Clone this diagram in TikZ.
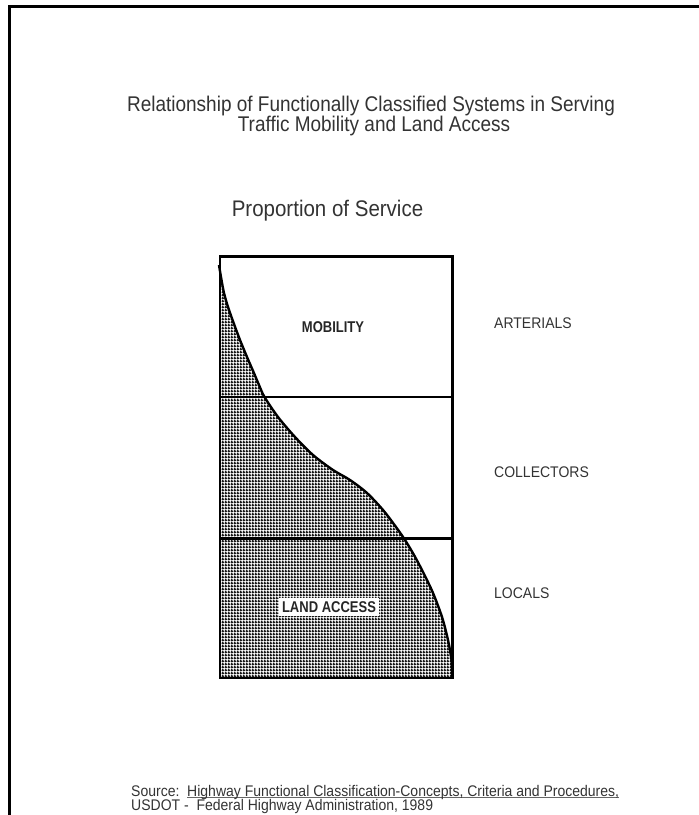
\documentclass[tikz,border=0pt]{standalone}
\usepackage{graphicx}
\usepackage{fontspec}
\setmainfont{Liberation Sans}
\usetikzlibrary{patterns.meta}
\tikzdeclarepattern{
  name=dotgrid,
  type=uncolored,
  bottom left={(0pt,0pt)},
  top right={(3pt,3pt)},
  tile size={(3pt,3pt)},
  code={
    \fill (0pt,0pt) rectangle (3pt,1.8pt);
    \fill (0pt,0pt) rectangle (1.8pt,3pt);
  }
}
\newcommand{\vstretch}[2][1.1]{\scalebox{1}[#1]{#2}}
\newcommand{\srcul}[1]{\setbox0\hbox{#1}\rlap{\color{black!60}\rule[-1.6pt]{\wd0}{0.7pt}}\box0}
\definecolor{ink}{HTML}{333333}
\tikzset{
  frame/.style={line width=3pt, black},
  chartline/.style={line width=2.4pt, black},
  shade/.style={pattern=dotgrid, pattern color=black!90},
  title/.style={text=ink, font=\fontsize{19}{20}\selectfont, inner sep=0pt},
  subtitle/.style={text=ink, font=\fontsize{20.5}{22}\selectfont, inner sep=0pt},
  rowlabel/.style={text=ink, font=\fontsize{14}{14}\selectfont, inner sep=0pt, anchor=base west},
  inlabel/.style={text=black!85, font=\bfseries\fontsize{13}{13}\selectfont, inner sep=0pt},
  srcline/.style={text=ink, font=\fontsize{14}{14}\selectfont, inner sep=0pt, anchor=base west}
}
\def\curvepts{(219,265) (221.5,280) (224,293) (228,307) (234,324) (240,340) (247,357) (253.5,372) (259,385) (264.5,397) (278,417) (295,437) (313,455) (333,470) (350,480) (367,493) (383,510) (396,527) (405,540) (414,555) (423,572) (433,593) (442,617) (448,640) (451.5,660) (452.5,678)}
\begin{document}
\begin{tikzpicture}[x=1pt,y=-1pt]
\useasboundingbox (0,0) rectangle (699,815);
% page frame
\draw[frame] (699,6.2) -- (9.6,6.2) -- (9.6,815);
% titles
\node[title, anchor=base] (title1) at (371,111.7) {\vstretch[1.12]{Relationship of Functionally Classified Systems in Serving}};
\node[title, anchor=base] (title2) at (374,131.7) {\vstretch[1.12]{Traffic Mobility and Land Access}};
\node[subtitle, anchor=base] (prop) at (327.5,216.7) {\vstretch{Proportion of Service}};
% chart corners
\coordinate (tl) at (220,256.5);
\coordinate (br) at (452.5,678);
\coordinate (bl) at (220,678);
\coordinate (d1l) at (220,397);
\coordinate (d1r) at (452.5,397);
\coordinate (d2l) at (220,538.5);
\coordinate (d2r) at (452.5,538.5);
% shaded land-access area
\fill[shade] plot[smooth, tension=0.5] coordinates {\curvepts} -- (bl) -- cycle;
% divider lines
\draw[chartline] (d1l) -- (d1r);
\draw[chartline] (d2l) -- (d2r);
% curve
\draw[chartline, line join=round] plot[smooth, tension=0.5] coordinates {\curvepts};
% chart box
\draw[chartline] (tl) rectangle (br);
% inner labels
\node[inlabel] (mob) at (333,327) {\vstretch[1.2]{MOBILITY}};
\node[inlabel, fill=white, inner xsep=3.5pt, inner ysep=3pt] (land) at (329,607) {\vstretch[1.2]{LAND ACCESS}};
% row labels
\node[rowlabel] (art) at (494,328) {\vstretch{ARTERIALS}};
\node[rowlabel] (col) at (494,477) {\vstretch{COLLECTORS}};
\node[rowlabel] (loc) at (494,598) {\vstretch{LOCALS}};
% source
\node[srcline] (src1) at (131,796) {\vstretch{Source:\ \ \srcul{Highway Functional Classification-Concepts, Criteria and Procedures,}}};
\node[srcline] (src2) at (131,810) {\vstretch{USDOT -\ \ Federal Highway Administration, 1989}};
\end{tikzpicture}
\end{document}
